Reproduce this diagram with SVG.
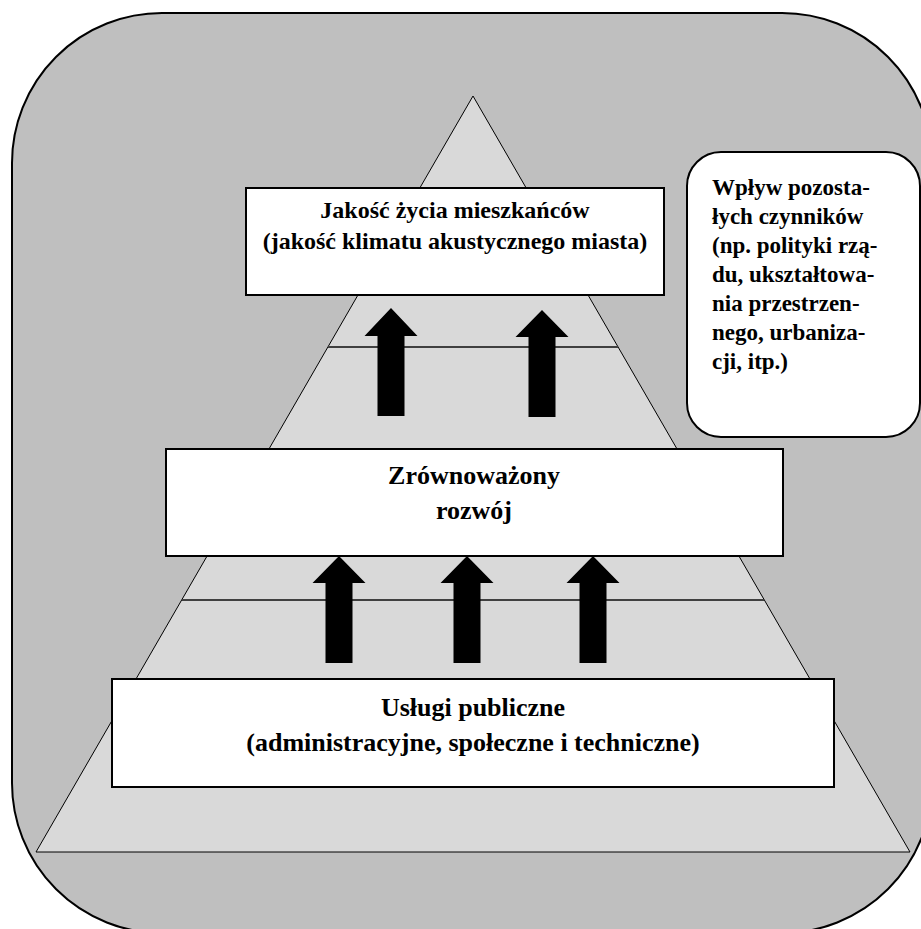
<svg xmlns="http://www.w3.org/2000/svg" width="921" height="929" viewBox="0 0 921 929">
<style>
.box{fill:#ffffff;stroke:#000000;stroke-width:2}
.t{font-family:"Liberation Serif","Times New Roman",serif;font-weight:bold;fill:#000000}
.c{text-anchor:middle}
.arr{fill:#000000;stroke:none}
.lvl{stroke:#404040;stroke-width:2;fill:none}
</style>
<rect id="frame" x="12" y="13" width="920" height="920" rx="150" ry="150" fill="#bfbfbf" stroke="#000000" stroke-width="2"/>
<g id="pyramid">
<polygon points="473,96 910,852 36,852" fill="#d9d9d9" stroke="#000000" stroke-width="1"/>
<line class="lvl" x1="328" y1="347" x2="618" y2="347"/>
<line class="lvl" x1="182" y1="600" x2="764" y2="600"/>
</g>
<g id="connectors">
<polygon class="arr" points="391,308 417.5,336 404.5,336 404.5,416 377.5,416 377.5,336 364.5,336"/>
<polygon class="arr" points="542,310 568.5,337 555.5,337 555.5,417 528.5,417 528.5,337 515.5,337"/>
<polygon class="arr" points="339,556 365.5,583 352.5,583 352.5,663 325.5,663 325.5,583 312.5,583"/>
<polygon class="arr" points="467,556 493.5,583 480.5,583 480.5,663 453.5,663 453.5,583 440.5,583"/>
<polygon class="arr" points="593,556 619.5,583 606.5,583 606.5,663 579.5,663 579.5,583 566.5,583"/>
</g>
<g id="node-quality">
<rect class="box" x="246" y="188" width="418" height="107"/>
<text class="t c" x="455" y="218" font-size="24">Jakość życia mieszkańców</text>
<text class="t c" x="455" y="249" font-size="24">(jakość klimatu akustycznego miasta)</text>
</g>
<g id="node-development">
<rect class="box" x="166" y="449" width="617" height="107"/>
<text class="t c" x="474" y="484" font-size="26">Zrównoważony</text>
<text class="t c" x="474" y="519" font-size="26">rozwój</text>
</g>
<g id="node-services">
<rect class="box" x="112" y="679" width="722" height="108"/>
<text class="t c" x="473" y="716" font-size="26">Usługi publiczne</text>
<text class="t c" x="473" y="751" font-size="26">(administracyjne, społeczne i techniczne)</text>
</g>
<g id="node-factors">
<rect class="box" x="687" y="152" width="233" height="285" rx="34" ry="34"/>
<text class="t" font-size="23">
<tspan x="712" y="195">Wpływ pozosta-</tspan>
<tspan x="712" y="224">łych czynników</tspan>
<tspan x="712" y="253">(np. polityki rzą-</tspan>
<tspan x="712" y="282">du, ukształtowa-</tspan>
<tspan x="712" y="311">nia przestrzen-</tspan>
<tspan x="712" y="340">nego, urbaniza-</tspan>
<tspan x="712" y="369">cji, itp.)</tspan>
</text>
</g>
</svg>
